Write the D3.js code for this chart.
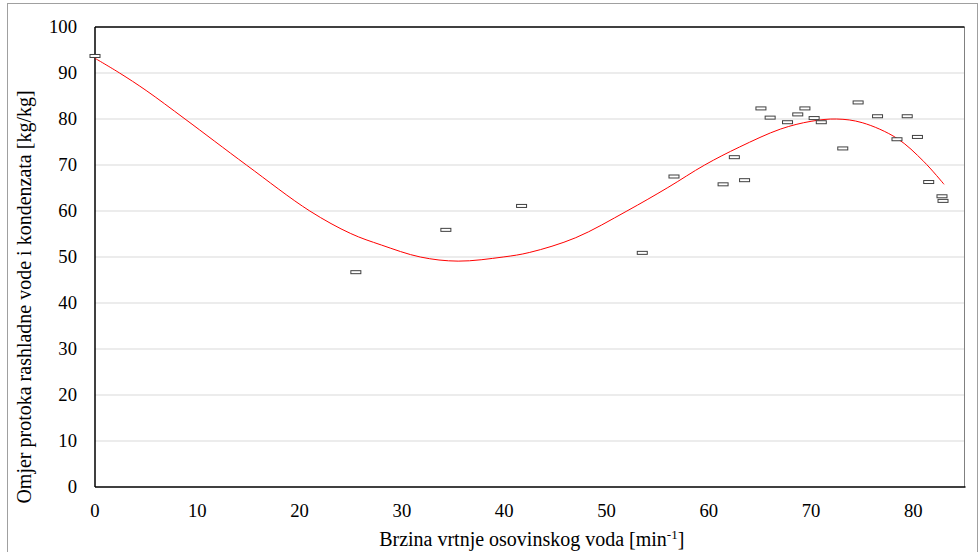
<!DOCTYPE html>
<html><head><meta charset="utf-8">
<script src="https://cdn.jsdelivr.net/npm/d3@7"></script>
<style>body{margin:0;background:#fff}svg{display:block}text{font-family:"Liberation Serif","Times New Roman",serif;fill:#000}</style>
</head><body><svg id="c" width="979" height="552"></svg>
<script>
// measured points
const speedX = [0,25.5,34.3,41.7,53.5,56.6,61.4,62.5,63.5,65.1,66.0,67.7,68.7,69.4,70.3,71.0,73.1,74.6,76.5,78.4,79.4,80.4,81.5,82.8,82.9];
const ratioY = [93.7,46.7,55.9,61.1,50.9,67.5,65.8,71.7,66.7,82.3,80.3,79.3,81.0,82.3,80.2,79.3,73.6,83.6,80.6,75.6,80.6,76.1,66.3,63.2,62.2];
// trendline
const trendX = [0,2.4,5,8.8,14.8,21,25,28,31.8,35.5,39.9,42.5,47,52,56,59.6,63,67,70,72.5,75,78.4,81,83];
const trendY = [93.2,90,86.2,80,70,60.0,55.1,52.6,50,49.1,50,51,54.2,60,65.1,70,73.9,77.8,79.5,80,79.2,75.8,70.8,65.8];
const xTicks = [0,10,20,30,40,50,60,70,80];
const yTicks = [0,10,20,30,40,50,60,70,80,90,100];
const xTitle = "Brzina vrtnje osovinskog voda [min";
const yTitle = "Omjer protoka rashladne vode i kondenzata [kg/kg]";

const svg = d3.select("#c");
const L=95,T=27,R=964.5,B=487;
const x = d3.scaleLinear().domain([0,85]).range([L,R]);
const y = d3.scaleLinear().domain([0,100]).range([B,T]);

// outer border
svg.append("rect").attr("x",7.5).attr("y",3.5).attr("width",970).attr("height",560)
  .attr("fill","none").attr("stroke","#a0a0a0").attr("stroke-width",1);

// gridlines
svg.append("g").selectAll("line").data(yTicks.filter(d=>d>0&&d<100)).join("line")
  .attr("x1",L).attr("x2",R).attr("y1",d=>y(d)).attr("y2",d=>y(d))
  .attr("stroke","#d9d9d9").attr("stroke-width",1);

// plot borders
svg.append("line").attr("x1",R).attr("x2",R).attr("y1",T).attr("y2",B).attr("stroke","#808080").attr("stroke-width",1);
svg.append("line").attr("x1",L).attr("x2",R).attr("y1",T).attr("y2",T).attr("stroke","#000").attr("stroke-width",1.3);
svg.append("line").attr("x1",L).attr("x2",R+1).attr("y1",B).attr("y2",B).attr("stroke","#000").attr("stroke-width",1.5);
svg.append("line").attr("x1",L).attr("x2",L).attr("y1",T).attr("y2",B).attr("stroke","#000").attr("stroke-width",1.5);

// axes tick labels
const fs = 18.67, tfs = 20;
svg.append("g").selectAll("text").data(yTicks).join("text")
  .attr("x",77).attr("y",d=>y(d)).attr("dy","0.34em").attr("text-anchor","end")
  .attr("font-size",fs).text(d=>d);
svg.append("g").selectAll("text").data(xTicks).join("text")
  .attr("x",d=>x(d)).attr("y",517).attr("text-anchor","middle")
  .attr("font-size",fs).text(d=>d);

// titles
const xt = svg.append("text").attr("x",(L+R)/2+2).attr("y",546).attr("text-anchor","middle").attr("font-size",tfs);
xt.append("tspan").text(xTitle);
xt.append("tspan").attr("dy",-7).attr("font-size",13).text("-1");
xt.append("tspan").attr("dy",7).text("]");
svg.append("text").attr("transform",`translate(31,${(T+B)/2+40}) rotate(-90)`).attr("text-anchor","middle")
  .attr("font-size",tfs).text(yTitle);

// trendline
const pts = trendX.map((v,i)=>[v,trendY[i]]);
svg.append("path").datum(pts)
  .attr("d",d3.line().x(d=>x(d[0])).y(d=>y(d[1])).curve(d3.curveCatmullRom.alpha(0.5)))
  .attr("fill","none").attr("stroke","#ff0000").attr("stroke-width",1);

// markers
svg.append("g").selectAll("rect").data(speedX.map((v,i)=>[v,ratioY[i]])).join("rect")
  .attr("x",d=>x(d[0])-5).attr("y",d=>y(d[1])-1.5).attr("width",10).attr("height",3)
  .attr("fill","#fff").attr("stroke","#404040").attr("stroke-width",1);
</script></body></html>
